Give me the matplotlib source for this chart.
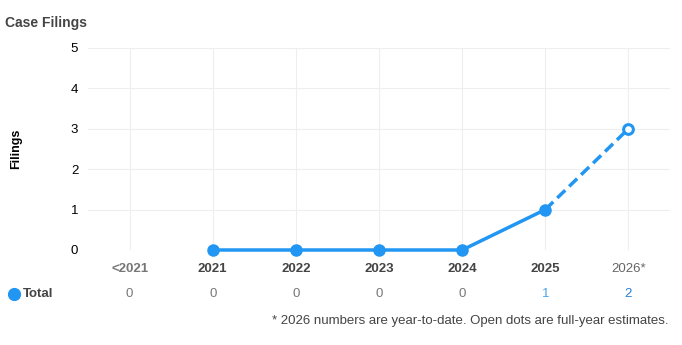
import matplotlib
matplotlib.use("Agg")
import matplotlib.pyplot as plt

plt.rcParams['font.family'] = ['Liberation Sans', 'DejaVu Sans']

# data
labels = ['<2021', '2021', '2022', '2023', '2024', '2025', '2026*']
totals = [0, 0, 0, 0, 0, 1, 2]
actual_idx = [1, 2, 3, 4, 5]
actual_vals = [0, 0, 0, 0, 1]
est_idx = [5, 6]
est_vals = [1, 3]

blue = '#2196F3'

fig = plt.figure(figsize=(6.82, 3.45), dpi=100)
ax = fig.add_axes([88 / 682, 1 - 250 / 345, (670 - 88) / 682, (250 - 48) / 345])

ax.plot(est_idx, est_vals, color=blue, lw=2.5, ls=(0, (3.2, 1.6)), clip_on=False, zorder=3)
ax.plot(actual_idx, actual_vals, color=blue, lw=2.5, marker='o', ms=8,
        clip_on=False, zorder=4)
ax.plot(est_idx[1:], est_vals[1:], ls='none', marker='o', ms=7, mfc='white',
        mec=blue, mew=2.2, clip_on=False, zorder=5)

ax.set_xlim(-0.5, len(labels) - 0.5)
ax.set_ylim(0, 5)
ax.set_yticks(range(6))
ax.set_xticks(range(len(labels)))
ax.set_xticklabels(labels)
ax.grid(True, color='#eeeeee', lw=0.8)
ax.set_axisbelow(True)
for s in ax.spines.values():
    s.set_visible(False)
ax.tick_params(axis='both', length=0)
ax.tick_params(axis='y', labelsize=9.5, pad=7, labelcolor='black')
ax.tick_params(axis='x', labelsize=9.5, pad=9)
for i, t in enumerate(ax.get_xticklabels()):
    if labels[i] == '<2021':
        t.set_color('#777777')
        t.set_fontweight('bold')
    elif labels[i].endswith('*'):
        t.set_color('#666666')
    else:
        t.set_color('#444444')
        t.set_fontweight('bold')

ax.set_ylabel('Filings', fontsize=9, fontweight='bold', color='black', labelpad=35)

fig.text(5 / 682, 1 - 23 / 345, 'Case Filings', fontsize=10, fontweight='bold',
         color='#444444', va='center', ha='left')

# table row
tr = ax.get_xaxis_transform()
row_y = -(294 - 250) / 202
ax.plot([-0.5 - 73.5 / 83.1], [row_y], marker='o', ms=8.5, color=blue,
        transform=tr, clip_on=False)
ax.text(-0.5 - 65.5 / 83.1, row_y, 'Total', transform=tr, fontsize=9.5,
        fontweight='bold', color='#444444', va='center', ha='left')
val_colors = ['#777777'] * 5 + ['#4aa3f0', '#2a7fd4']
for i, v in enumerate(totals):
    ax.text(i, row_y, str(v), transform=tr, fontsize=9.5, color=val_colors[i],
            ha='center', va='center')

fig.text(669 / 682, 1 - 321 / 345,
         '* 2026 numbers are year-to-date. Open dots are full-year estimates.',
         fontsize=9.5, color='#444444', ha='right', va='center')

fig.savefig('out.png', dpi=100)
